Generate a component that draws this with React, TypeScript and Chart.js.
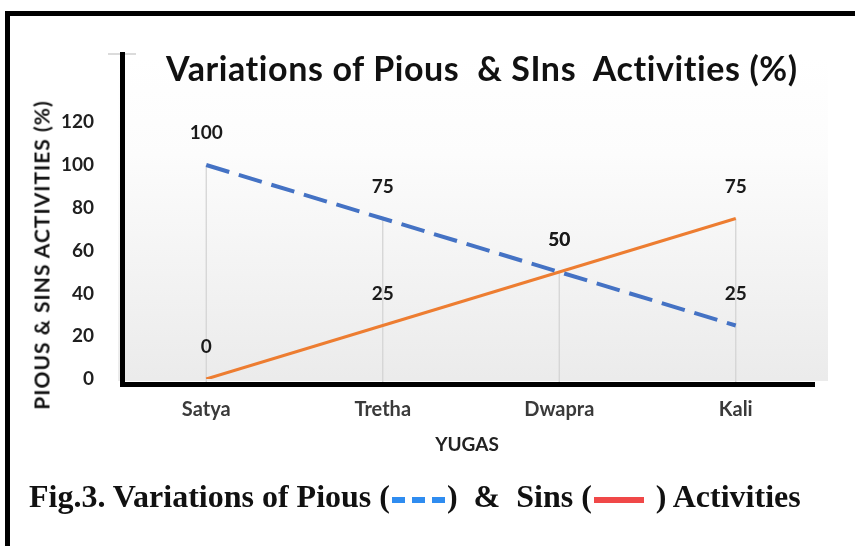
import React, { useEffect, useRef } from "react";
import { Chart, registerables } from "chart.js";

Chart.register(...registerables);

const categories = ["Satya", "Tretha", "Dwapra", "Kali"];
const piousValues = [100, 75, 50, 25];
const sinsValues = [0, 25, 50, 75];
const yTickValues = [0, 20, 40, 60, 80, 100, 120];
const yMin = 0;
const yMax = 150;

const FONT = "Lato, 'Open Sans', sans-serif";

const backgroundPlugin = {
  id: "plotBg",
  beforeDatasetsDraw(chart: any) {
    const { ctx, chartArea } = chart;
    const g = ctx.createLinearGradient(0, chartArea.top, 0, chartArea.bottom);
    g.addColorStop(0, "#ffffff");
    g.addColorStop(0.3, "#fcfcfc");
    g.addColorStop(1, "#ebebeb");
    ctx.save();
    ctx.fillStyle = g;
    ctx.fillRect(chartArea.left, chartArea.top - 4, chartArea.right - chartArea.left + 4, chartArea.bottom - chartArea.top + 6);
    // drop lines
    const xs = chart.scales.x;
    const ys = chart.scales.y;
    ctx.strokeStyle = "#d4d4d4";
    ctx.lineWidth = 1.3;
    categories.forEach((_, i) => {
      const top = Math.max(piousValues[i], sinsValues[i]);
      const x = xs.getPixelForValue(i);
      ctx.beginPath();
      ctx.moveTo(x, ys.getPixelForValue(top));
      ctx.lineTo(x, chartArea.bottom + 3);
      ctx.stroke();
    });
    ctx.restore();
  },
};

const axesPlugin = {
  id: "axesAndLabels",
  afterDatasetsDraw(chart: any) {
    const { ctx, chartArea } = chart;
    ctx.save();
    // small gray tick at top of axis
    ctx.strokeStyle = "#cfcfcf";
    ctx.lineWidth = 1.5;
    ctx.beginPath();
    ctx.moveTo(chartArea.left - 10, chartArea.top - 4);
    ctx.lineTo(chartArea.left + 18, chartArea.top - 4);
    ctx.stroke();
    // black axes
    ctx.strokeStyle = "#000";
    ctx.lineWidth = 5;
    ctx.beginPath();
    ctx.moveTo(chartArea.left + 4.5, chartArea.top - 6);
    ctx.lineTo(chartArea.left + 4.5, chartArea.bottom + 8);
    ctx.stroke();
    ctx.beginPath();
    ctx.moveTo(chartArea.left + 2, chartArea.bottom + 5.5);
    ctx.lineTo(chartArea.right - 9, chartArea.bottom + 5.5);
    ctx.stroke();
    // data labels
    ctx.fillStyle = "#1a1a1a";
    ctx.font = `bold 19px ${FONT}`;
    ctx.textAlign = "center";
    ctx.textBaseline = "middle";
    chart.data.datasets.forEach((ds: any, di: number) => {
      const meta = chart.getDatasetMeta(di);
      meta.data.forEach((pt: any, i: number) => {
        ctx.fillText(String(ds.data[i]), pt.x, pt.y - 32);
      });
    });
    ctx.restore();
  },
};

function ChartView() {
  const ref = useRef<HTMLCanvasElement | null>(null);
  useEffect(() => {
    if (!ref.current) return;
    const chart = new Chart(ref.current, {
      type: "line",
      data: {
        labels: categories,
        datasets: [
          {
            label: "Pious",
            data: piousValues,
            borderColor: "#4472C4",
            borderWidth: 4,
            borderDash: [24, 10],
            pointRadius: 0,
            tension: 0,
            fill: false,
          },
          {
            label: "Sins",
            data: sinsValues,
            borderColor: "#ED7D31",
            borderWidth: 3,
            pointRadius: 0,
            tension: 0,
            fill: false,
          },
        ],
      },
      options: {
        animation: false,
        responsive: false,
        maintainAspectRatio: false,
        layout: { padding: { top: 58, right: 31, bottom: 0, left: 0 } },
        plugins: {
          legend: { display: false },
          tooltip: { enabled: false },
          title: { display: false },
        },
        scales: {
          x: {
            type: "category",
            offset: true,
            grid: { display: false, drawTicks: false },
            border: { display: false },
            ticks: {
              padding: 19,
              color: "#3a3a3a",
              font: { family: FONT, size: 20, weight: "bold" },
            },
            afterFit: (s: any) => {
              s.height = 167;
            },
          },
          y: {
            min: yMin,
            max: yMax,
            grid: { display: false, drawTicks: false },
            border: { display: false },
            afterBuildTicks: (s: any) => {
              s.ticks = yTickValues.map((v) => ({ value: v }));
            },
            ticks: {
              padding: 24,
              color: "#1f1f1f",
              font: { family: FONT, size: 19, weight: "bold" },
            },
            afterFit: (s: any) => {
              s.width = 118;
            },
          },
        },
      },
      plugins: [backgroundPlugin, axesPlugin],
    } as any);
    return () => chart.destroy();
  }, []);
  return (
    <canvas
      ref={ref}
      width={855}
      height={546}
      style={{ position: "absolute", left: 0, top: 0, width: 855, height: 546 }}
    />
  );
}

export default function App() {
  return (
    <div
      style={{
        position: "absolute",
        left: 0,
        top: 0,
        width: 855,
        height: 546,
        background: "#fff",
        overflow: "hidden",
      }}
    >
      <div
        style={{
          position: "absolute",
          left: 5,
          top: 11,
          width: 860,
          height: 550,
          borderTop: "5px solid #000",
          borderLeft: "5px solid #000",
          boxSizing: "border-box",
        }}
      />
      <ChartView />
      <div
        style={{
          position: "absolute",
          left: 166,
          top: 47,
          font: `bold 34px ${FONT}`,
          letterSpacing: "0.6px",
          color: "#111",
          whiteSpace: "pre",
        }}
      >
        {"Variations of Pious  & SIns  Activities (%)"}
      </div>
      <div
        style={{
          position: "absolute",
          left: 41,
          top: 255,
          transform: "translate(-50%, -50%) rotate(-90deg)",
          font: `bold 21px ${FONT}`,
          letterSpacing: "1px",
          color: "#111",
          whiteSpace: "nowrap",
          lineHeight: 1,
        }}
      >
        PIOUS &amp; SINS ACTIVITIES (%)
      </div>
      <div
        style={{
          position: "absolute",
          left: 467,
          top: 443,
          transform: "translate(-50%, -50%)",
          font: `bold 19px ${FONT}`,
          color: "#222",
          whiteSpace: "nowrap",
          lineHeight: 1,
        }}
      >
        YUGAS
      </div>
      <div
        style={{
          position: "absolute",
          left: 29,
          top: 478,
          font: "bold 32px 'Liberation Serif', 'Times New Roman', serif",
          color: "#111",
          whiteSpace: "pre",
        }}
      >
        {"Fig.3. Variations of Pious ("}
        <span style={{ display: "inline-block", width: 13, height: 6, background: "#2f8cf0", verticalAlign: "middle", marginLeft: 2 }} />
        <span style={{ display: "inline-block", width: 13, height: 6, background: "#2f8cf0", verticalAlign: "middle", marginLeft: 7 }} />
        <span style={{ display: "inline-block", width: 13, height: 6, background: "#2f8cf0", verticalAlign: "middle", marginLeft: 7, marginRight: 2 }} />
        {")  &  Sins ("}
        <span style={{ display: "inline-block", width: 50, height: 6, background: "#f04848", verticalAlign: "middle", marginLeft: 2, marginRight: 4 }} />
        {" ) Activities"}
      </div>
    </div>
  );
}
